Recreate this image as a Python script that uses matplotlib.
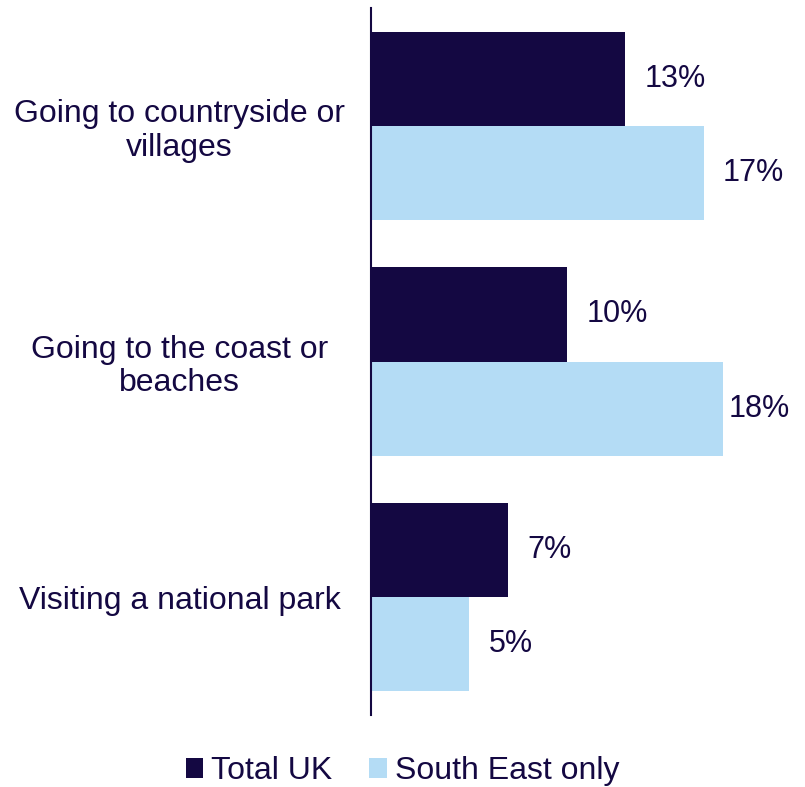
import matplotlib.pyplot as plt
import numpy as np

plt.rcParams['font.family'] = ['Liberation Sans', 'DejaVu Sans']

categories = ["Going to countryside or\nvillages",
              "Going to the coast or\nbeaches",
              "Visiting a national park"]
total_uk = [13, 10, 7]
south_east = [17, 18, 5]
series_names = ["Total UK", "South East only"]

navy = "#140842"
light = "#B4DCF5"

fig = plt.figure(figsize=(8.05, 7.87), dpi=100)
ax = fig.add_axes([0.461, 0.0915, 0.52, 0.8983])

y = np.arange(len(categories))
h = 0.4
b1 = ax.barh(y - h / 2, total_uk, height=h, color=navy, label=series_names[0])
b2 = ax.barh(y + h / 2, south_east, height=h, color=light, label=series_names[1])

xmax = 21.4
ax.set_xlim(0, xmax)
ax.set_ylim(2.5, -0.5)

labels = []
for bars, vals in ((b1, total_uk), (b2, south_east)):
    for bar, v in zip(bars, vals):
        t = ax.annotate(f"{v}%", (v, bar.get_y() + bar.get_height() / 2),
                        xytext=(14, 0), textcoords="offset points",
                        ha="left", va="center", fontsize=22, color=navy)
        labels.append(t)

# labels that would run past the plot area get pushed back inside
fig.canvas.draw()
ax_right = ax.get_window_extent().x1
for t in labels:
    if t.get_window_extent().x1 > ax_right:
        t.xy = (xmax, t.xy[1])
        t.set_position((0, 0))
        t.set_ha("right")

ax.set_yticks(y)
ax.set_yticklabels(categories, fontsize=23, color=navy, ha="center",
                   linespacing=1.15)
ax.tick_params(axis="y", length=0, pad=138)
ax.set_xticks([])
for side in ("top", "right", "bottom"):
    ax.spines[side].set_visible(False)
ax.spines["left"].set_color(navy)
ax.spines["left"].set_linewidth(1.5)

fig.legend(handles=[b1, b2], loc="center", bbox_to_anchor=(0.5, 0.02),
           ncol=2, frameon=False, fontsize=23, labelcolor=navy,
           handlelength=0.55, handleheight=0.55, handletextpad=0.25,
           columnspacing=1.15)

fig.savefig("out.png", dpi=100)
